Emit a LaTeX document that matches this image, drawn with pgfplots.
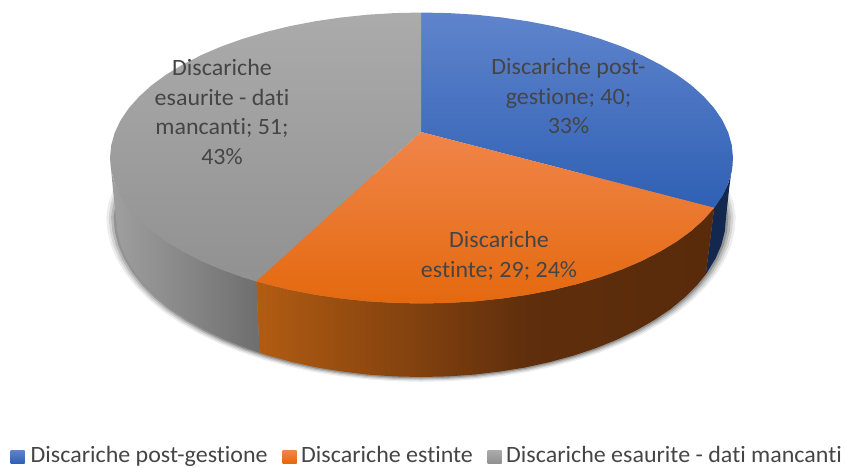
\documentclass[border=0pt]{standalone}
\usepackage{pgfplots}
\usepackage{pgfplotstable}
\usepackage{fontspec}
\setmainfont[FakeStretch=1.025,Ligatures=NoCommon]{Carlito}
\pgfplotsset{compat=1.18}
\definecolor{txt}{HTML}{454545}
\definecolor{bluetop}{HTML}{5F84CC}
\definecolor{bluemid}{HTML}{3665BE}
\definecolor{bluebot}{HTML}{2F60B4}
\definecolor{orangetop}{HTML}{F08549}
\definecolor{orangemid}{HTML}{F0771F}
\definecolor{orangebot}{HTML}{E4690F}
\definecolor{graytop}{HTML}{ABABAB}
\definecolor{graymid}{HTML}{9E9E9E}
\definecolor{graybot}{HTML}{919191}
\definecolor{sideoa}{HTML}{B25C12}
\definecolor{sideob}{HTML}{5F2E0C}
\definecolor{sideoc}{HTML}{592B0B}
\definecolor{sidega}{HTML}{A0A0A0}
\definecolor{sidegb}{HTML}{6E6E6E}
\definecolor{sideb}{HTML}{12284F}
% bottom outline of the pie, used for the soft shadow
\pgfplotstableread{
x y
712 175
719 190
724 204
726 217
724.8 231
721.4 244.8
715.6 258.4
707.6 271.7
697.4 284.6
685.1 297
670.9 308.8
654.6 319.8
636.7 330.1
617 339.6
595.9 348.1
573.5 355.6
549.9 362
525.3 367.4
499.9 371.5
474 374.6
447.6 376.4
421 377
394.4 376.4
368 374.6
342.1 371.5
316.7 367.4
292.1 362
268.5 355.6
246.1 348.1
225 339.6
205.3 330.1
187.4 319.8
171.1 308.8
156.9 297
144.6 284.6
134.4 271.7
126.4 258.4
120.6 244.8
117.2 231
116 217
118 204
123 190
130 175
}\bottomrim
\begin{document}
\begin{tikzpicture}
\path[use as bounding box] (0,0) rectangle (845pt,467pt);
\begin{axis}[
  at={(0,0)}, anchor=south west,
  width=845pt, height=467pt, scale only axis,
  xmin=0, xmax=845, ymin=0, ymax=467, y dir=reverse,
  hide axis, clip=false,
]
% shadow
\addplot[draw=none,fill=black,fill opacity=0.07,mark=none] table[x expr={421+(\thisrow{x}-421)*1.032},y expr={217+(\thisrow{y}-217)*1.03}] {\bottomrim};
\addplot[draw=none,fill=black,fill opacity=0.10,mark=none] table[x expr={421+(\thisrow{x}-421)*1.024},y expr={217+(\thisrow{y}-217)*1.022}] {\bottomrim};
\addplot[draw=none,fill=black,fill opacity=0.14,mark=none] table[x expr={421+(\thisrow{x}-421)*1.016},y expr={217+(\thisrow{y}-217)*1.015}] {\bottomrim};
\addplot[draw=none,fill=black,fill opacity=0.20,mark=none] table[x expr={421+(\thisrow{x}-421)*1.008},y expr={217+(\thisrow{y}-217)*1.008}] {\bottomrim};
% side faces
\addplot[draw=none,mark=none,fill=sideb] coordinates {(733,158)(731.8,170.7)(728.3,183.3)(722.4,195.7)(714.2,207.8)(705.8,274.3)(715.6,258.4)(721.4,244.8)(724.8,231)(726,217)(729,190)};
\addplot[draw=none,mark=none,left color=sideob,right color=sideoc] coordinates {(528,294.7)(553.1,289.9)(577.3,284)(600.2,277.2)(621.7,269.5)(641.8,260.9)(660.1,251.5)(676.7,241.5)(691.3,230.8)(703.8,219.5)(714.2,207.8)(705.8,274.3)(697.4,284.6)(685.1,297)(670.9,308.8)(654.6,319.8)(636.7,330.1)(617,339.6)(595.9,348.1)(573.5,355.6)(549.9,362)(525.3,367.4)};
\addplot[draw=none,mark=none,left color=sideoa,right color=sideob] coordinates {(256.4,281.4)(265.8,284)(289.9,289.9)(315,294.7)(340.9,298.5)(367.4,301.3)(394.3,302.9)(421.5,303.5)(448.7,302.9)(475.6,301.3)(502.1,298.5)(528.5,294.7)(525.8,367.4)(499.9,371.5)(474,374.6)(447.6,376.4)(421,377)(394.4,376.4)(368,374.6)(342.1,371.5)(316.7,367.4)(292.1,362)(268.5,355.6)(259.4,352.7)};
\addplot[draw=none,mark=none,left color=sidega,right color=sidegb] coordinates {(256.4,281.4)(242.8,277.2)(221.3,269.5)(201.2,260.9)(182.9,251.5)(166.3,241.5)(151.7,230.8)(139.2,219.5)(128.8,207.8)(120.6,195.7)(114.7,183.3)(111.2,170.7)(110,158)(113,190)(116,217)(117.2,231)(120.6,244.8)(126.4,258.4)(134.4,271.7)(144.6,284.6)(156.9,297)(171.1,308.8)(187.4,319.8)(205.3,330.1)(225,339.6)(246.1,348.1)(259.4,352.7)};
% top faces
\addplot[draw=none,mark=none,top color=bluetop,middle color=bluemid,bottom color=bluebot] coordinates {(421,132)(421,12.5)(448.7,13.1)(475.6,14.7)(502.1,17.5)(528,21.3)(553.1,26.1)(577.3,32)(600.2,38.8)(621.7,46.5)(641.8,55.1)(660.1,64.5)(676.7,74.5)(691.3,85.2)(703.8,96.5)(714.2,108.2)(722.4,120.3)(728.3,132.7)(731.8,145.3)(733,158)(731.8,170.7)(728.3,183.3)(722.4,195.7)(714.2,207.8)};
\addplot[draw=none,mark=none,top color=graytop,middle color=graymid,bottom color=graybot] coordinates {(421,132)(256.4,281.4)(242.8,277.2)(221.3,269.5)(201.2,260.9)(182.9,251.5)(166.3,241.5)(151.7,230.8)(139.2,219.5)(128.8,207.8)(120.6,195.7)(114.7,183.3)(111.2,170.7)(110,158)(111.2,145.3)(114.7,132.7)(120.6,120.3)(128.8,108.2)(139.2,96.5)(151.7,85.2)(166.3,74.5)(182.9,64.5)(201.2,55.1)(221.3,46.5)(242.8,38.8)(265.8,32)(289.9,26.1)(315,21.3)(340.9,17.5)(367.4,14.7)(394.3,13.1)(421,12.5)};
\addplot[draw=none,mark=none,top color=orangetop,middle color=orangemid,bottom color=orangebot] coordinates {(421,132)(714.2,207.8)(703.8,219.5)(691.3,230.8)(676.7,241.5)(660.1,251.5)(641.8,260.9)(621.7,269.5)(600.2,277.2)(577.3,284)(553.1,289.9)(528,294.7)(502.1,298.5)(475.6,301.3)(448.7,302.9)(421.5,303.5)(394.3,302.9)(367.4,301.3)(340.9,298.5)(315,294.7)(289.9,289.9)(265.8,284)(256.4,281.4)};
% data labels
\node[text=txt,align=center,font=\fontsize{23.4}{29.5}\selectfont] at (axis cs:568.5,96) {Discariche post-\\gestione; 40;\\33\%};
\node[text=txt,align=center,font=\fontsize{23.4}{29.5}\selectfont] at (axis cs:222,112) {Discariche\\esaurite - dati\\mancanti; 51;\\43\%};
\node[text=txt,align=center,font=\fontsize{23.4}{29.5}\selectfont] at (axis cs:499,256) {Discariche\\estinte; 29; 24\%};
% legend
\addplot[draw=none,mark=none,top color=bluetop,bottom color=bluebot] coordinates {(10.5,450)(24.5,450)(24.5,463)(10.5,463)};
\addplot[draw=none,mark=none,top color=orangetop,bottom color=orangebot] coordinates {(282.5,450)(296.5,450)(296.5,463)(282.5,463)};
\addplot[draw=none,mark=none,top color=graytop,bottom color=graybot] coordinates {(487.5,450)(501.5,450)(501.5,463)(487.5,463)};
\node[text=txt,anchor=base west,inner sep=0pt,font=\fontsize{23.4}{26}\selectfont] at (axis cs:30.5,462.3) {Discariche post-gestione};
\node[text=txt,anchor=base west,inner sep=0pt,font=\fontsize{23.4}{26}\selectfont] at (axis cs:301,462.3) {Discariche estinte};
\node[text=txt,anchor=base west,inner sep=0pt,font=\fontsize{23.4}{26}\selectfont] at (axis cs:506,462.3) {Discariche esaurite - dati mancanti};
\end{axis}
\end{tikzpicture}
\end{document}
